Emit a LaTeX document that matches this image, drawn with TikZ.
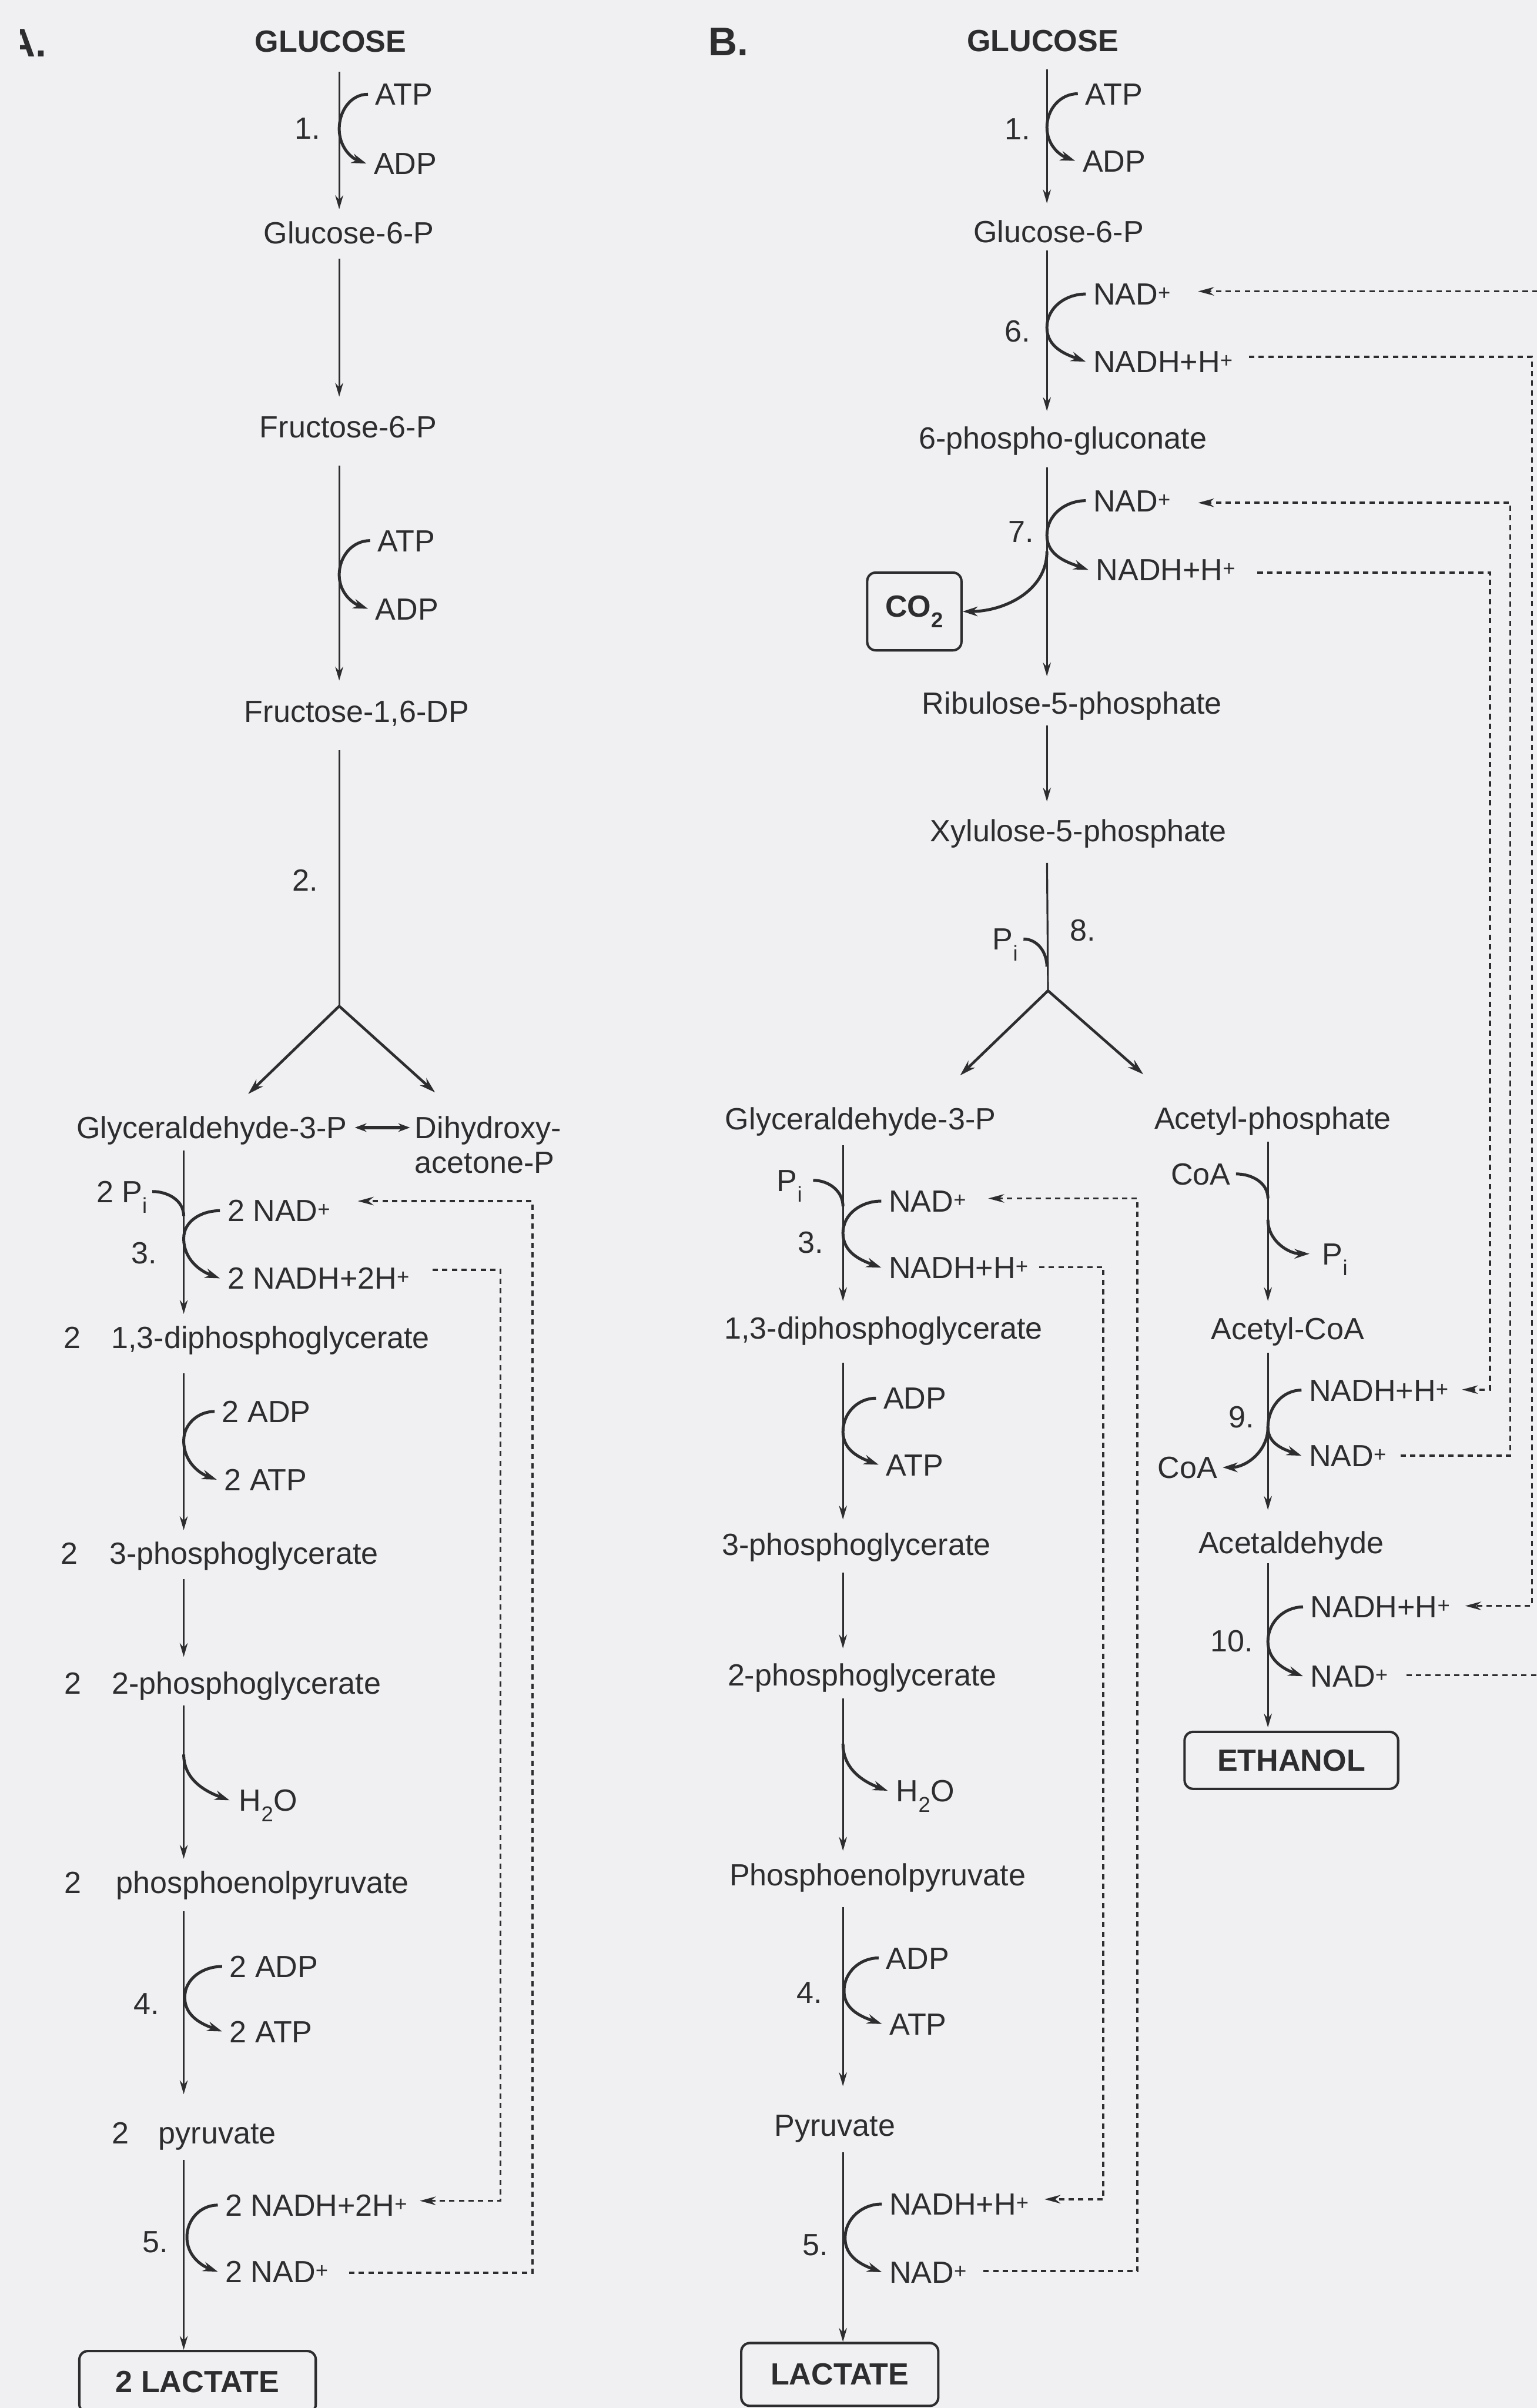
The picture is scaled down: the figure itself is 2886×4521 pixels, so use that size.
\documentclass[tikz,border=0pt]{standalone}
\usepackage{fontspec}
\setmainfont{Liberation Sans}
\usetikzlibrary{arrows.meta}
\definecolor{bgc}{RGB}{240,240,242}
\definecolor{ink}{RGB}{45,45,48}
\tikzset{
 txt/.style={inner sep=0pt, text height=41pt, text depth=0pt, font=\fontsize{57.5}{66}\selectfont, text=ink},
 btxt/.style={txt, font=\fontsize{57.5}{66}\selectfont\bfseries},
 lab/.style={inner sep=0pt, text height=54pt, text depth=0pt, font=\fontsize{75}{80}\selectfont\bfseries, text=ink},
 side/.style={txt, anchor=west},
 sidee/.style={txt, anchor=east},
 mainarr/.style={draw=ink, line width=3.5pt, -{Stealth[length=26pt,width=15pt]}},
 mainline/.style={draw=ink, line width=3.5pt},
 curv/.style={draw=ink, line width=5.5pt, -{Stealth[length=28pt,width=18pt]}},
 curvin/.style={draw=ink, line width=5.5pt},
 dsh/.style={draw=ink, line width=4pt, dash pattern=on 10pt off 8pt, -{Stealth[length=30pt,width=16pt]}},
 branch/.style={draw=ink, line width=5pt, -{Stealth[length=30pt,width=18pt]}},
 tbox/.style={draw=ink, line width=4.5pt, rounded corners=16pt, inner sep=0pt, font=\fontsize{57.5}{66}\selectfont\bfseries, text=ink},
}
\newcommand\mystep[5]{\draw[mainarr, shorten <=#3pt, shorten >=#4pt] (#1.south -| #5) -- (#2.north -| #5);}
\newcommand\cofac[3]{\draw[curv] ([xshift=-14pt]#1.west) to[out=180,in=90] (#3) to[out=-90,in=160] ([xshift=-14pt]#2.west);}
\newcommand\dashloop[3]{\draw[dsh] (#1) -- (#1 -| #3) -- (#2 -| #3) -- (#2);}
\begin{document}
\begin{tikzpicture}[x=1pt,y=-1pt]
\useasboundingbox (0,0) rectangle (2886,4521);
\fill[bgc] (0,0) rectangle (2886,4521);

% ---------------- Panel A ----------------
\begin{scope}
\clip (38,0) rectangle (200,200);
\node[lab, anchor=east] (labA) at (88,80) {A.};
\end{scope}
\coordinate (axA) at (637,0);
\coordinate (axA2) at (345,0);

\node[btxt] (glcA) at (621,77) {GLUCOSE};
\node[txt] (g6pA) at (655,437) {Glucose-6-P};
\node[txt] (f6pA) at (654,801) {Fructose-6-P};
\node[txt] (f16A) at (670,1335) {Fructose-1,6-DP};
\node[txt] (gapA) at (398,2117) {Glyceraldehyde-3-P};
\node[side] (dhA1) at (779,2117) {Dihydroxy-};
\node[side] (dhA2) at (779,2182) {acetone-P};
\node[txt] (n13A) at (136,2511) {2};
\node[txt] (dpgA) at (508,2511) {1,3-diphosphoglycerate};
\node[txt] (n3pA) at (130,2916) {2};
\node[txt] (pg3A) at (458,2916) {3-phosphoglycerate};
\node[txt] (n2pA) at (137,3160) {2};
\node[txt] (pg2A) at (463,3160) {2-phosphoglycerate};
\node[txt] (npeA) at (137,3534) {2};
\node[txt] (pepA) at (493,3534) {phosphoenolpyruvate};
\node[txt] (npyA) at (226,4004) {2};
\node[txt] (pyrA) at (408,4004) {pyruvate};
\node[tbox, minimum width=444pt, minimum height=116pt] (lacA) at (371,4472) {2 LACTATE};

\node[txt] (r1A) at (577,241) {1.};
\node[txt] (r2A) at (573,1652) {2.};
\node[txt] (r3A) at (271,2352) {3.};
\node[txt] (r4A) at (275,3761) {4.};
\node[txt] (r5A) at (292,4209) {5.};

\node[side] (atp1A) at (705,177) {ATP};
\node[side] (adp1A) at (702,307) {ADP};
\node[side] (atp2A) at (709,1015) {ATP};
\node[side] (adp2A) at (705,1143) {ADP};
\node[sidee] (pi3A) at (277,2237) {2 P\textsubscript{i}};
\node[side] (nad3A) at (427,2273) {2 NAD\textsuperscript{+}};
\node[side] (nadh3A) at (427,2400) {2 NADH+2H\textsuperscript{+}};
\node[side] (adp3A) at (417,2650) {2 ADP};
\node[side] (atp3A) at (421,2778) {2 ATP};
\node[side] (h2oA) at (449,3380) {H\textsubscript{2}O};
\node[side] (adp4A) at (431,3692) {2 ADP};
\node[side] (atp4A) at (431,3814) {2 ATP};
\node[side] (nadh5A) at (423,4140) {2 NADH+2H\textsuperscript{+}};
\node[side] (nad5A) at (423,4265) {2 NAD\textsuperscript{+}};

\mystep{glcA}{g6pA}{36.5}{23.5}{axA}
\mystep{g6pA}{f6pA}{27.5}{35.5}{axA}
\mystep{f6pA}{f16A}{52.5}{36.5}{axA}
\coordinate (apA) at (637,1889);
\coordinate (tAL) at (466,2054);
\coordinate (tAR) at (817,2051);
\draw[mainline, shorten <=52.5pt] (f16A.south -| axA) -- (apA);
\draw[branch] (apA) -- (tAL);
\draw[branch] (apA) -- (tAR);
\draw[draw=ink, line width=6pt, {Stealth[length=22pt,width=16pt]}-{Stealth[length=22pt,width=16pt]}, shorten <=14pt, shorten >=9pt] (gapA.east) -- (dhA1.west);

\mystep{gapA}{dpgA}{22.5}{23.5}{axA2}
\mystep{dpgA}{pg3A}{46.5}{22.5}{axA2}
\mystep{pg3A}{pg2A}{27.5}{28.5}{axA2}
\mystep{pg2A}{pepA}{21.5}{23.5}{axA2}
\mystep{pepA}{pyrA}{33.5}{51.5}{axA2}
\mystep{pyrA}{lacA}{30.5}{0}{axA2}

\coordinate (m1A) at (637,242);
\cofac{atp1A}{adp1A}{m1A}
\coordinate (m2A) at (637,1079);
\cofac{atp2A}{adp2A}{m2A}
\coordinate (pin3A) at (345,2283);
\draw[curvin] ([xshift=9pt]pi3A.east) to[out=0,in=90] (pin3A);
\coordinate (m3A) at (345,2325);
\cofac{nad3A}{nadh3A}{m3A}
\coordinate (m3bA) at (345,2705);
\cofac{adp3A}{atp3A}{m3bA}
\coordinate (h2oSA) at (345,3294);
\draw[curv] (h2oSA) to[out=-90,in=160] ([xshift=-18pt]h2oA.west);
\coordinate (m4A) at (347,3750);
\cofac{adp4A}{atp4A}{m4A}
\coordinate (m5A) at (351,4200);
\cofac{nadh5A}{nad5A}{m5A}

\coordinate (vA1) at (940,0);
\coordinate (vA2) at (1000,0);
\coordinate (dA1s) at ([xshift=43pt,yshift=16pt]nadh3A.east);
\coordinate (dA1e) at ([xshift=23pt,yshift=8pt]nadh5A.east);
\dashloop{dA1s}{dA1e}{vA1}
\coordinate (dA2s) at ([xshift=39pt,yshift=-2pt]nad5A.east);
\coordinate (dA2e) at ([xshift=51pt,yshift=18pt]nad3A.east);
\dashloop{dA2s}{dA2e}{vA2}

% ---------------- Panel B ----------------
\node[lab] (labB) at (1368,77) {B.};
\coordinate (axB) at (1966,0);
\coordinate (axB2) at (1583,0);
\coordinate (axC) at (2381,0);

\node[btxt] (glcB) at (1958,76) {GLUCOSE};
\node[txt] (g6pB) at (1988,435) {Glucose-6-P};
\node[txt] (pgB) at (1996,822) {6-phospho-gluconate};
\node[txt] (ruB) at (2013,1320) {Ribulose-5-phosphate};
\node[txt] (xuB) at (2025,1560) {Xylulose-5-phosphate};
\node[txt] (gapB) at (1616,2100) {Glyceraldehyde-3-P};
\node[txt] (acpB) at (2390,2099) {Acetyl-phosphate};
\node[txt] (dpgB) at (1659,2493) {1,3-diphosphoglycerate};
\node[txt] (acoB) at (2418,2494) {Acetyl-CoA};
\node[txt] (pg3B) at (1608,2900) {3-phosphoglycerate};
\node[txt] (aldB) at (2425,2896) {Acetaldehyde};
\node[txt] (pg2B) at (1619,3145) {2-phosphoglycerate};
\node[txt] (pepB) at (1648,3520) {Phosphoenolpyruvate};
\node[txt] (pyrB) at (1568,3990) {Pyruvate};
\node[tbox, minimum width=370pt, minimum height=118pt] (lacB) at (1577,4458) {LACTATE};
\node[tbox, minimum width=401pt, minimum height=107pt] (ethB) at (2425,3305) {ETHANOL};
\node[tbox, minimum width=177pt, minimum height=146pt] (co2B) at (1717,1148) {CO\textsubscript{2}};

\node[txt] (r1B) at (1911,242) {1.};
\node[txt] (r6B) at (1911,621) {6.};
\node[txt] (r7B) at (1917,998) {7.};
\node[txt] (r8B) at (2033,1746) {8.};
\node[txt] (r3B) at (1522,2332) {3.};
\node[txt] (r4B) at (1520,3741) {4.};
\node[txt] (r5B) at (1531,4214) {5.};
\node[txt] (r9B) at (2331,2660) {9.};
\node[txt] (r10B) at (2313,3080) {10.};

\node[side] (atp1B) at (2038,176) {ATP};
\node[side] (adp1B) at (2033,302) {ADP};
\node[side] (nad6) at (2053,552) {NAD\textsuperscript{+}};
\node[side] (nadh6) at (2053,679) {NADH+H\textsuperscript{+}};
\node[side] (nad7) at (2053,940) {NAD\textsuperscript{+}};
\node[side] (nadh7) at (2058,1070) {NADH+H\textsuperscript{+}};
\node[sidee] (pi8) at (1912,1763) {P\textsubscript{i}};
\node[sidee] (pi3B) at (1507,2216) {P\textsubscript{i}};
\node[side] (nad3B) at (1669,2255) {NAD\textsuperscript{+}};
\node[side] (nadh3B) at (1669,2380) {NADH+H\textsuperscript{+}};
\node[side] (adpB) at (1659,2625) {ADP};
\node[side] (atpB) at (1664,2750) {ATP};
\node[side] (h2oB) at (1683,3362) {H\textsubscript{2}O};
\node[side] (adp4B) at (1664,3676) {ADP};
\node[side] (atp4B) at (1670,3800) {ATP};
\node[side] (nadh5B) at (1670,4138) {NADH+H\textsuperscript{+}};
\node[side] (nad5B) at (1670,4266) {NAD\textsuperscript{+}};
\node[sidee] (coa1) at (2311,2204) {CoA};
\node[side] (pi9) at (2483,2354) {P\textsubscript{i}};
\node[side] (nadh9) at (2458,2610) {NADH+H\textsuperscript{+}};
\node[side] (nad9) at (2458,2733) {NAD\textsuperscript{+}};
\node[sidee] (coa2) at (2286,2755) {CoA};
\node[side] (nadh10) at (2461,3017) {NADH+H\textsuperscript{+}};
\node[side] (nad10) at (2461,3147) {NAD\textsuperscript{+}};

\mystep{glcB}{g6pB}{33.5}{32.5}{axB}
\mystep{g6pB}{pgB}{14.5}{29.5}{axB}
\mystep{pgB}{ruB}{34.5}{29.5}{axB}
\mystep{ruB}{xuB}{21.5}{34.5}{axB}
\coordinate (apB) at (1968,1860);
\coordinate (tBL) at (1803,2019);
\coordinate (tBR) at (2147,2017);
\draw[mainline, shorten <=39.5pt] (xuB.south -| axB) -- (apB);
\draw[branch] (apB) -- (tBL);
\draw[branch] (apB) -- (tBR);
\mystep{gapB}{dpgB}{29.5}{29.5}{axB2}
\mystep{dpgB}{pg3B}{44.5}{26.5}{axB2}
\mystep{pg3B}{pg2B}{31.5}{29.5}{axB2}
\mystep{pg2B}{pepB}{22.5}{24.5}{axB2}
\mystep{pepB}{pyrB}{39.5}{52.5}{axB2}
\mystep{pyrB}{lacB}{30.5}{0}{axB2}
\mystep{acpB}{acoB}{23.5}{30.5}{axC}
\mystep{acoB}{aldB}{25.5}{40.5}{axC}
\mystep{aldB}{ethB}{18.5}{6}{axC}

\coordinate (m1B) at (1966,239);
\cofac{atp1B}{adp1B}{m1B}
\coordinate (m6B) at (1966,615);
\cofac{nad6}{nadh6}{m6B}
\coordinate (m7B) at (1966,1005);
\cofac{nad7}{nadh7}{m7B}
\coordinate (co2s) at (1966,1035);
\draw[curv] (co2s) to[out=-90,in=0] (co2B.east);
\coordinate (pin8) at (1966,1815);
\draw[curvin] ([xshift=10pt]pi8.east) to[out=0,in=90] (pin8);
\coordinate (pin3B) at (1583,2265);
\draw[curvin] ([xshift=20pt]pi3B.east) to[out=0,in=90] (pin3B);
\coordinate (m3B) at (1583,2315);
\cofac{nad3B}{nadh3B}{m3B}
\coordinate (m3bB) at (1583,2688);
\cofac{adpB}{atpB}{m3bB}
\coordinate (h2oSB) at (1583,3274);
\draw[curv] (h2oSB) to[out=-90,in=160] ([xshift=-16pt]h2oB.west);
\coordinate (m4B) at (1585,3738);
\cofac{adp4B}{atp4B}{m4B}
\coordinate (m5B) at (1587,4202);
\cofac{nadh5B}{nad5B}{m5B}

\coordinate (pinC) at (2381,2250);
\draw[curvin] ([xshift=10pt]coa1.east) to[out=0,in=90] (pinC);
\coordinate (poutC) at (2381,2290);
\draw[curv] (poutC) to[out=-90,in=180] ([xshift=-24pt]pi9.west);
\coordinate (m9) at (2381,2680);
\cofac{nadh9}{nad9}{m9}
\draw[curv] (m9) to[out=-90,in=0] ([xshift=10pt]coa2.east);
\coordinate (m10) at (2381,3082);
\cofac{nadh10}{nad10}{m10}

\coordinate (vB1) at (2072,0);
\coordinate (vB2) at (2136,0);
\coordinate (v1) at (2798,0);
\coordinate (v2) at (2836,0);
\coordinate (v3) at (2877,0);
\coordinate (v4) at (2896,0);

\coordinate (d1s) at ([xshift=34pt,yshift=2pt]nad10.east);
\coordinate (d1e) at ([xshift=51pt,yshift=5pt]nad6.east);
\dashloop{d1s}{d1e}{v4}
\coordinate (d2s) at ([xshift=30pt,yshift=9pt]nadh6.east);
\coordinate (d2e) at ([xshift=28pt,yshift=2pt]nadh10.east);
\dashloop{d2s}{d2e}{v3}
\coordinate (d3s) at ([xshift=26pt]nad9.east);
\coordinate (d3e) at ([xshift=51pt,yshift=-4pt]nad7.east);
\dashloop{d3s}{d3e}{v2}
\coordinate (d4s) at ([xshift=41pt,yshift=-5pt]nadh7.east);
\coordinate (d4e) at ([xshift=25pt,yshift=1pt]nadh9.east);
\dashloop{d4s}{d4e}{v1}
\coordinate (d5s) at ([xshift=31pt,yshift=2pt]nad5B.east);
\coordinate (d5e) at ([xshift=41pt,yshift=5pt]nad3B.east);
\dashloop{d5s}{d5e}{vB2}
\coordinate (d6s) at ([xshift=20pt,yshift=1pt]nadh3B.east);
\coordinate (d6e) at ([xshift=29pt,yshift=9pt]nadh5B.east);
\dashloop{d6s}{d6e}{vB1}
\end{tikzpicture}
\end{document}
